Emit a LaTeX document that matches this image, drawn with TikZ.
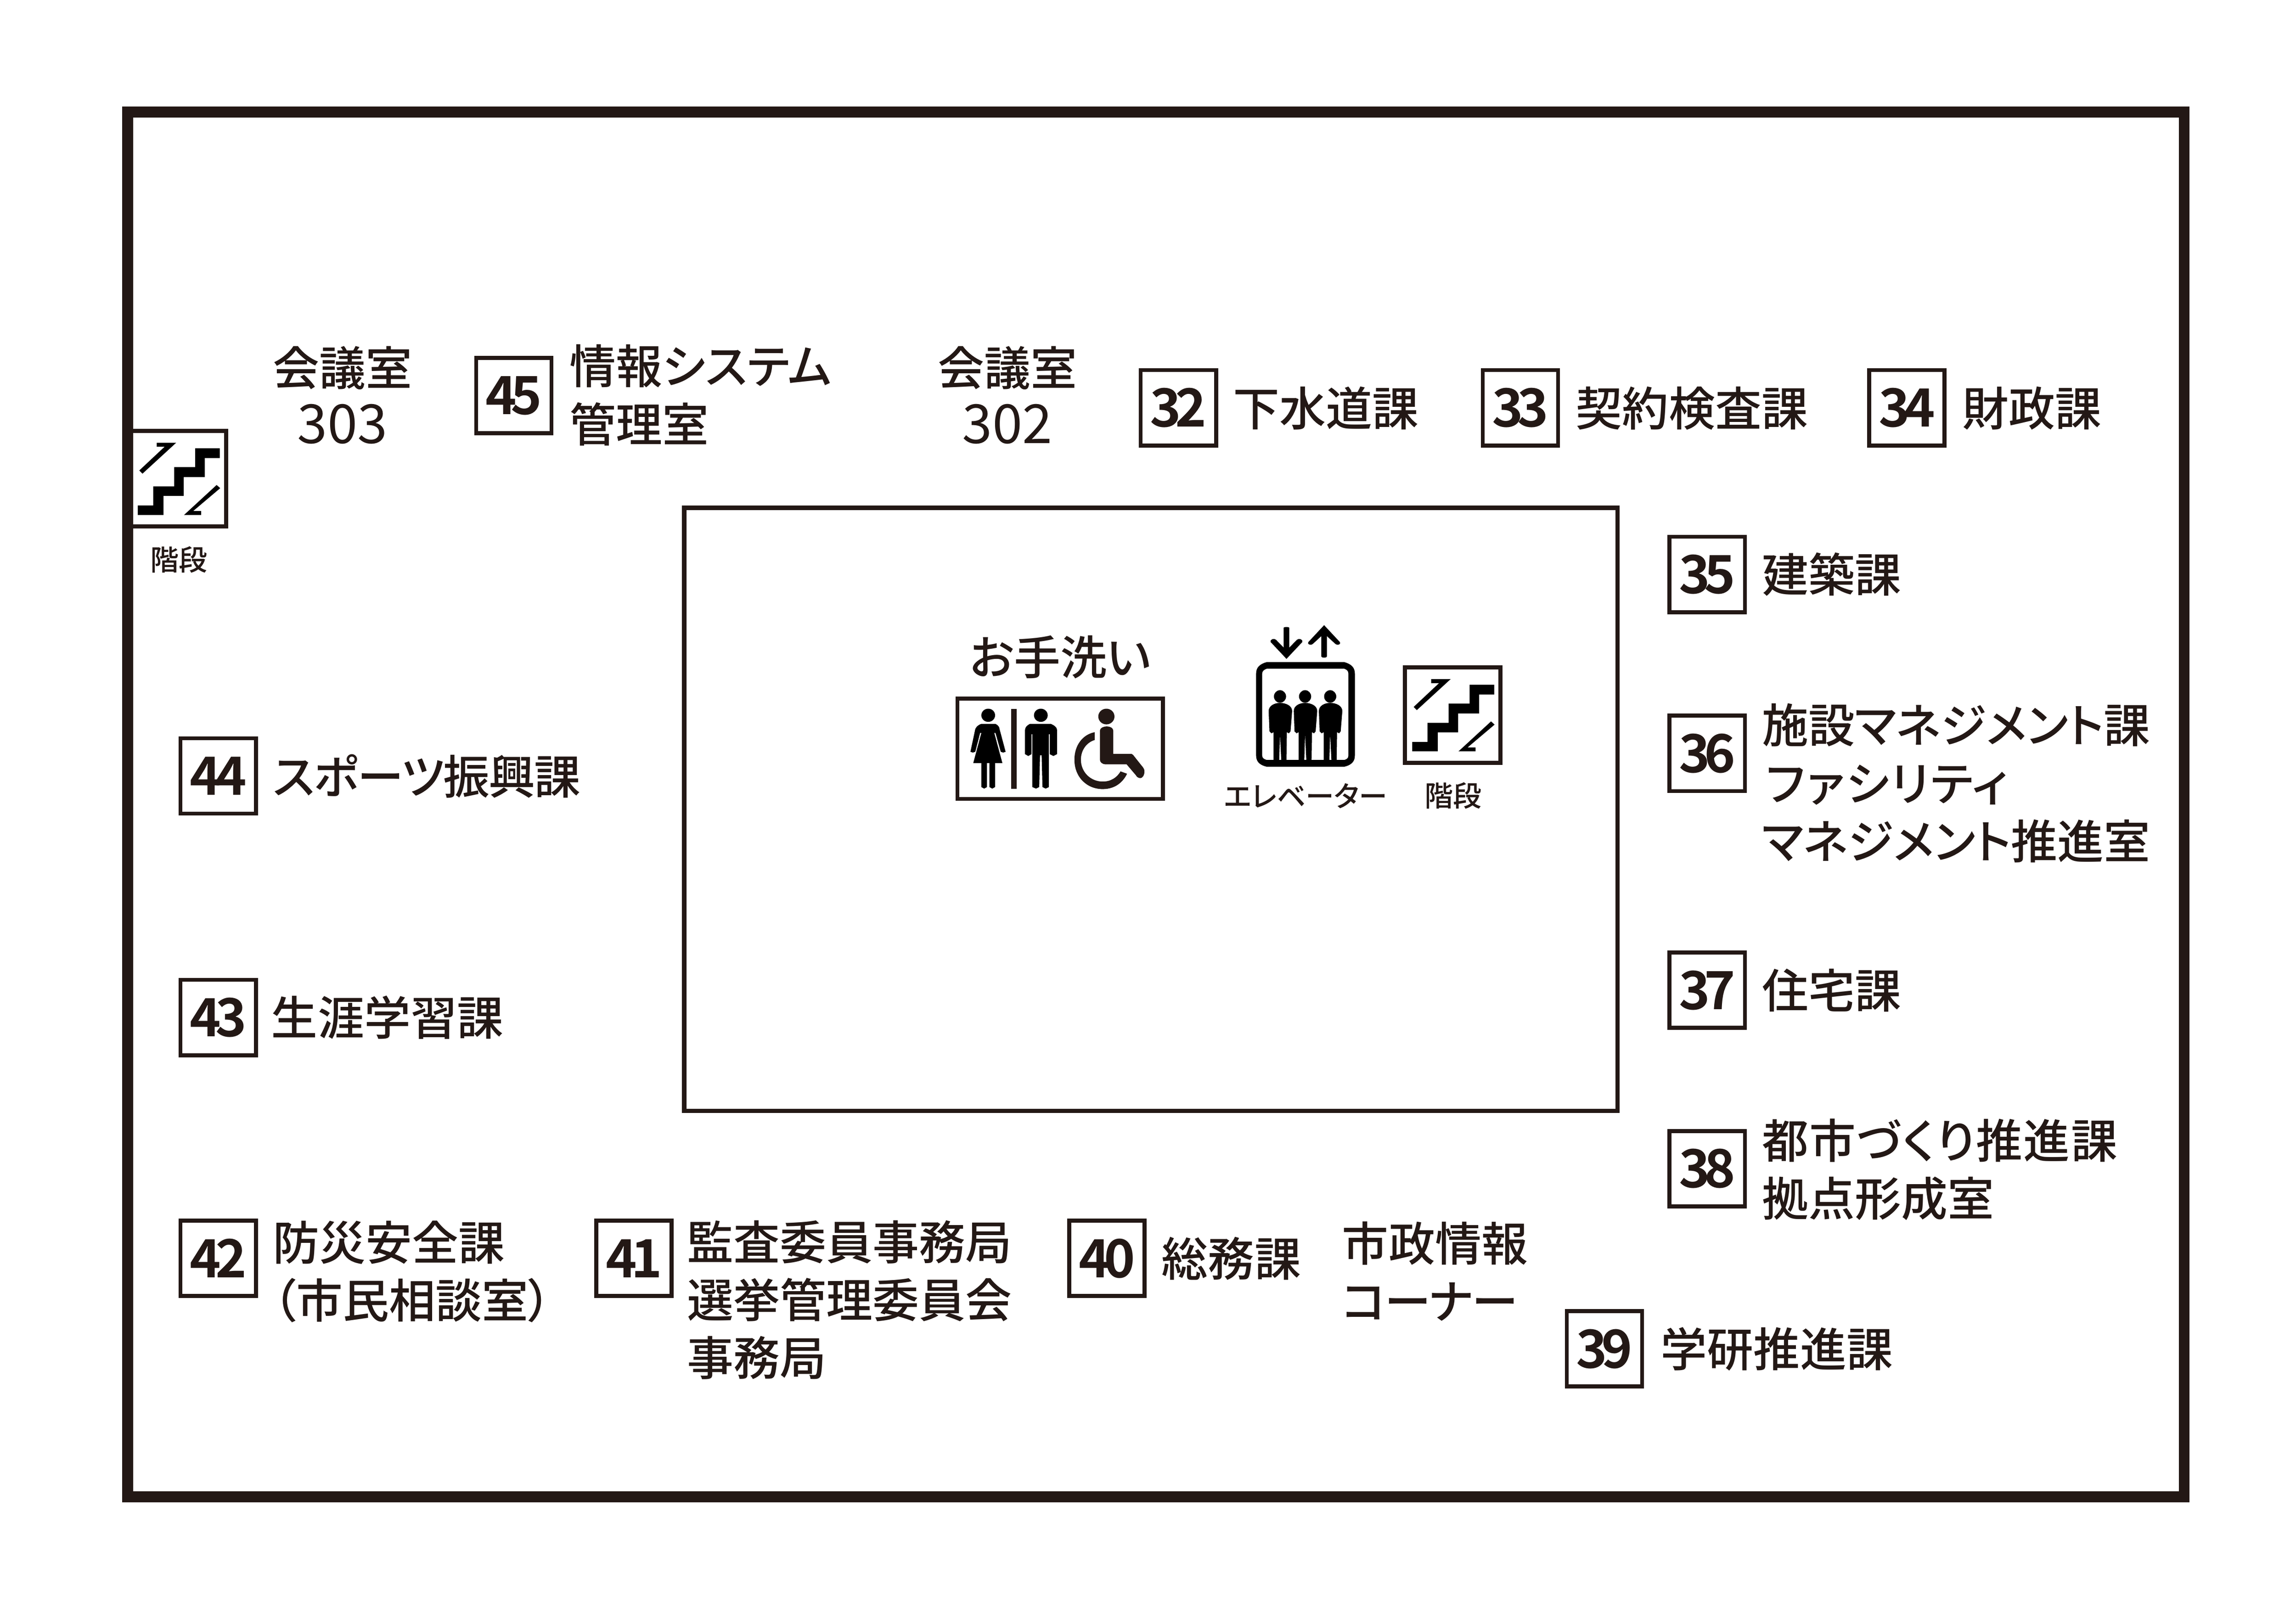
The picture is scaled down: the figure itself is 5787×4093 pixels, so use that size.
\documentclass[tikz,border=0pt]{standalone}
\usepackage{fontspec}
\setmainfont{Noto Sans CJK JP Medium}[RawFeature=+palt]
\newfontfamily\numfont[LetterSpace=-11]{Noto Sans CJK JP Bold}
\newfontfamily\plainfont{Noto Sans CJK JP}
\definecolor{ink}{HTML}{231815}
\tikzset{
  roomlabel/.style={anchor=west,inner sep=0pt,align=left,text=ink,font=\fontsize{11.7}{14.6}\selectfont},
  roomcentre/.style={inner sep=0pt,align=center,text=ink,font=\fontsize{11.7}{14.6}\selectfont},
  smalllabel/.style={inner sep=0pt,text=ink,font=\fontsize{7.2}{8}\selectfont},
  numbox/.style={draw=ink,line width=1pt,minimum size=19pt,inner sep=0pt,text=ink,font=\numfont\fontsize{13.3}{14}\selectfont},
  stairsicon/.pic={
    \draw[ink,line width=1pt] (5,5) rectangle (246,246);
    \fill[black] (23.5,193) -- (62,193) -- (62,145) -- (115,145) -- (115,96.5) -- (168,96.5) -- (168,49) -- (230,49) -- (230,73.5) -- (192,73.5) -- (192,121.5) -- (139,121.5) -- (139,169) -- (88,169) -- (88,217) -- (23.5,217) -- cycle;
    \fill[black] (71,35) -- (120,35) -- (35,113) -- (27,105) -- (91,45) -- (71,45) -- cycle;
    \fill[black] (140,217) -- (183,217) -- (183,207) -- (163,207) -- (231,149.5) -- (222,141.5) -- cycle;
  }
}
\begin{document}
\begin{tikzpicture}[x=0.1pt,y=-0.1pt]
   \useasboundingbox (0,0) rectangle (5787,4093);
   \draw[ink,line width=2.75pt] (322,282) rectangle (5505,3773);
   \draw[ink,line width=1.05pt] (1724.5,1280) rectangle (4077,2800);
   % numbered rooms
   \node[numbox] (n45) at (1295,997) {45};
   \node[numbox] (n32) at (2970,1028) {32};
   \node[numbox] (n33) at (3832,1028) {33};
   \node[numbox] (n34) at (4806,1028) {34};
   \node[numbox] (n35) at (4303,1448) {35};
   \node[numbox] (n36) at (4303,1899) {36};
   \node[numbox] (n37) at (4303,2496) {37};
   \node[numbox] (n38) at (4303,2946) {38};
   \node[numbox] (n39) at (4044,3400) {39};
   \node[numbox] (n44) at (550,1956) {44};
   \node[numbox] (n43) at (550,2565) {43};
   \node[numbox] (n42) at (550,3172) {42};
   \node[numbox] (n41) at (1598,3172) {41};
   \node[numbox] (n40) at (2790,3172) {40};
   \node[roomlabel] (t45) at (1434,996) {情報システム\\管理室};
   \node[roomlabel] (t32) at (3106,1029) {下水道課};
   \node[roomlabel] (t33) at (3970,1029) {契約検査課};
   \node[roomlabel] (t34) at (4944,1029) {財政課};
   \node[roomlabel] (t35) at (4439,1448) {建築課};
   \node[roomlabel] (t36) at (4439,1974) {施設マネジメント課\\\hspace*{1pt}{\addfontfeature{LetterSpace=4}ファシリティ}\\マネジメント推進室};
   \node[roomlabel] (t37) at (4439,2496) {住宅課};
   \node[roomlabel] (t38) at (4439,2948) {{\addfontfeature{LetterSpace=2.5}都市づくり推進課}\\拠点形成室};
   \node[roomlabel] (t39) at (4184,3400) {学研推進課};
   \node[roomlabel] (t44) at (686,1956) {\addfontfeature{LetterSpace=-2}スポーツ振興課};
   \node[roomlabel] (t43) at (682,2565) {生涯学習課};
   \node[roomlabel] (t42) at (686,3205) {防災安全課\\（市民相談室）};
   \node[roomlabel] (t41) at (1730,3277) {監査委員事務局\\選挙管理委員会\\事務局};
   \node[roomlabel] (t40) at (2926,3173) {総務課};
   \node[roomlabel] (tinfo) at (3381,3205) {市政情報\\{\addfontfeature{LetterSpace=-3}コーナー}};
   \node[roomcentre] (r303) at (863,996) {会議室\\{\plainfont\fontsize{13.6}{14.6}\selectfont 303}};
   \node[roomcentre] (r302) at (2539,996) {会議室\\{\plainfont\fontsize{13.6}{14.6}\selectfont 302}};
   \node[roomcentre] (twash) at (2672,1656) {お手洗い};
   \node[smalllabel] (tstairsA) at (451,1411) {階段};
   \node[smalllabel] (tlift) at (3291,2006) {エレベーター};
   \node[smalllabel] (tstairsB) at (3663,2006) {階段};
   % stairs
   \pic (stairsA) at (324,1081) {stairsicon};
   \pic (stairsB) at (3536,1677) {stairsicon};
   % toilets and lift, in the units of the close-up
   \begin{scope}[shift={(2300,1500)},x=0.102pt,y=-0.0395pt]
     \draw[ink,line width=1pt] (111,660) rectangle (619,1301);
     \fill[black] (187,767) ellipse [x radius=17,y radius=42];
     \fill[black] (170,822) -- (205,822) .. controls (212,830) and (215,845) .. (215,855) -- (230,1000) -- (224,1005) -- (218,1000) -- (205,880) -- (202,880) -- (222,1072) -- (204,1072) -- (204,1225) -- (197,1235) -- (190,1225) -- (190,1072) -- (184,1072) -- (184,1225) -- (177,1235) -- (170,1225) -- (170,1072) -- (150,1072) -- (170,880) -- (167,880) -- (155,1000) -- (149,1005) -- (143,1000) -- (155,855) .. controls (157,845) and (160,830) .. (170,822) -- cycle;
     \fill[ink] (244,725) rectangle (257,1235);
     \fill[black] (317,767) ellipse [x radius=17,y radius=42];
     \fill[black] (290,822) -- (342,822) .. controls (350,830) and (357,845) .. (357,860) -- (357,1015) -- (348,1027) -- (339,1015) -- (339,888) -- (337,888) -- (337,1225) -- (329,1235) -- (321,1225) -- (319,1022) -- (315,1022) -- (313,1225) -- (305,1235) -- (296,1225) -- (296,888) -- (294,888) -- (294,1015) -- (286,1027) -- (278,1015) -- (278,860) .. controls (278,845) and (283,830) .. (290,822) -- cycle;
     \fill[ink] (479,775) ellipse [x radius=20,y radius=50];
     \fill[ink] (463,865) .. controls (463,848) and (472,838) .. (480,838) .. controls (488,838) and (496,848) .. (496,865) -- (496,1013) -- (541,1013) -- (545,1020) -- (565,1085) .. controls (570,1100) and (573,1110) .. (573,1125) .. controls (573,1150) and (568,1168) .. (563,1168) .. controls (558,1168) and (554,1160) .. (552,1150) -- (529,1080) -- (478,1080) .. controls (468,1080) and (463,1065) .. (463,1050) -- cycle;
     \fill[ink] (450,875) .. controls (420,890) and (400,960) .. (400,1050) .. controls (400,1160) and (430,1238) .. (470,1238) .. controls (500,1238) and (520,1195) .. (530,1140) -- (514,1125) .. controls (505,1165) and (490,1190) .. (470,1190) .. controls (440,1190) and (416,1130) .. (416,1050) .. controls (416,990) and (430,940) .. (450,925) -- cycle;
     % lift
     \fill[black,even odd rule] (875,428) -- (1067,428) .. controls (1085,440) and (1093,465) .. (1093,500) -- (1093,1025) .. controls (1093,1060) and (1085,1085) .. (1067,1095) -- (875,1095) .. controls (857,1085) and (849,1060) .. (849,1025) -- (849,500) .. controls (849,465) and (857,440) .. (875,428) -- cycle
       (875,470) -- (1067,470) .. controls (1073,475) and (1077,485) .. (1077,500) -- (1077,1025) .. controls (1077,1040) and (1073,1048) .. (1067,1052) -- (875,1052) .. controls (869,1048) and (864,1040) .. (864,1025) -- (864,500) .. controls (864,485) and (869,475) .. (875,470) -- cycle;
     \foreach \dx in {0,62,124}{
       \begin{scope}[shift={(\dx,0)}]
         \fill[black] (908,647) ellipse [x radius=15,y radius=40];
         \fill[black] (880,740) .. controls (880,705) and (895,688) .. (908,688) .. controls (922,688) and (938,705) .. (938,740) -- (934,870) -- (930,882) -- (925,875) -- (924,1052) -- (911,1052) -- (908,890) -- (906,1052) -- (892,1052) -- (892,875) -- (887,882) -- (882,870) -- cycle;
       \end{scope}
     }
     \fill[black] (917,208) .. controls (918,202) and (930,202) .. (931,208) -- (931,335) -- (950,285) .. controls (955,272) and (966,285) .. (963,300) -- (924,407) -- (885,300) .. controls (882,285) and (893,272) .. (898,285) -- (917,335) -- cycle;
     \fill[black] (1010,392) .. controls (1011,402) and (1023,402) .. (1024,392) -- (1024,262) -- (1045,312) .. controls (1050,325) and (1060,312) .. (1056,300) -- (1017,192) -- (978,300) .. controls (974,312) and (984,325) .. (989,312) -- (1010,262) -- cycle;
   \end{scope}
\end{tikzpicture}
\end{document}
